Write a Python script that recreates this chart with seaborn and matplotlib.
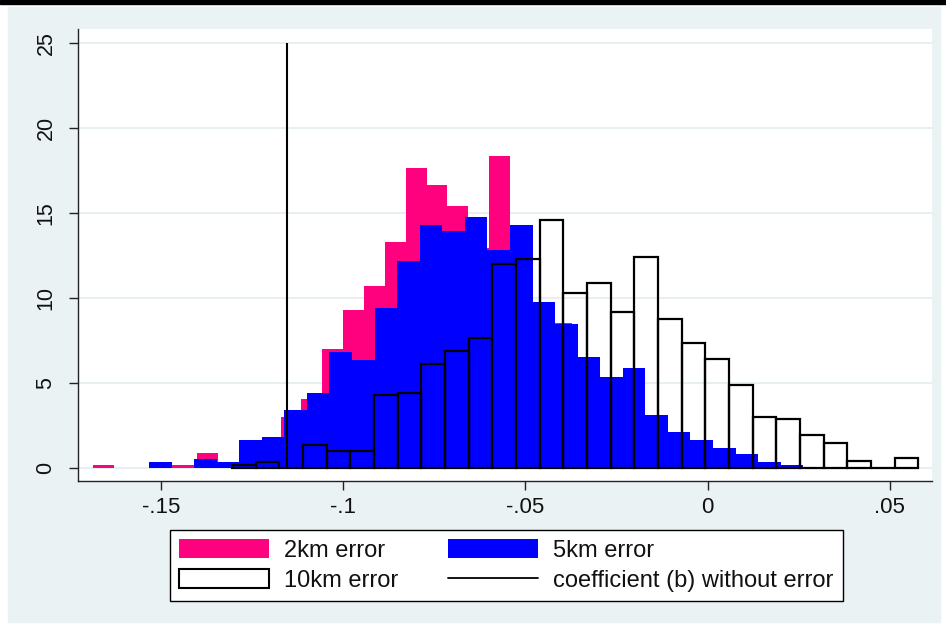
import numpy as np
import pandas as pd
import matplotlib
matplotlib.use("Agg")
import matplotlib.pyplot as plt
import seaborn as sns
from matplotlib.patches import Patch, Rectangle
from matplotlib.lines import Line2D

# histogram densities (Stata style overlaid histograms)
pink_start, pink_width = -0.16857, 0.005718
pink_2km = [0.17, 0, 0, 0.15, 0.15, 0.86, 0.17, 1.0, 1.4, 3.0, 4.04, 6.98, 9.28,
            10.69, 13.28, 17.64, 16.64, 15.40, 12.91, 18.34, 11.0, 8.0, 8.54,
            5.0, 3.8, 3.0, 2.0, 1.2, 0.7, 0.35, 0.17]

blue_start, blue_width = -0.15321, 0.006188
blue_5km = [0.33, 0, 0.49, 0.33, 1.63, 1.82, 3.40, 4.39, 6.81, 6.34, 9.40, 12.16,
            14.28, 13.93, 14.75, 12.81, 14.28, 9.75, 8.46, 6.52, 5.34, 5.87,
            3.10, 2.10, 1.63, 1.16, 0.81, 0.34, 0.16]

ten_start, ten_width = -0.13044, 0.00649
ten_10km = [0.15, 0.31, 0, 1.35, 1.0, 1.0, 4.28, 4.42, 6.10, 6.89, 7.63, 11.97,
            12.30, 14.58, 10.26, 10.89, 9.18, 12.42, 8.75, 7.36, 6.42, 4.89,
            3.0, 2.87, 1.94, 1.47, 0.41, 0, 0.59]

coef_no_error = -0.1153
coef_top = 25

x_ticks = [-0.15, -0.1, -0.05, 0, 0.05]
x_ticklabels = ["-.15", "-.1", "-.05", "0", ".05"]
y_ticks = [0, 5, 10, 15, 20, 25]
labels = ["2km error", "5km error", "10km error", "coefficient (b) without error"]

PINK = "#ff007f"
BLUE = "#0000ff"
BG = "#eaf2f3"
GRID = "#e4ecef"

sns.set_theme(style="white")
plt.rcParams["font.family"] = ["Liberation Sans", "DejaVu Sans"]

fig = plt.figure(figsize=(9.46, 6.28), dpi=100)
fig.patch.set_facecolor("white")
fig.patches.append(Rectangle((8 / 946, 6 / 628), 932 / 946, 615 / 628,
                             transform=fig.transFigure, color=BG, zorder=-10))
fig.patches.append(Rectangle((0, 1 - 4.3 / 628), 1, 4.3 / 628,
                             transform=fig.transFigure, color="black", zorder=-9))

ax = fig.add_axes([0.08245, 0.23408, 0.90275, 0.71926])
ax.set_facecolor("white")


def draw_hist(heights, start, width, **kw):
    edges = [start + width * i for i in range(len(heights) + 1)]
    df = pd.DataFrame({"value": [e + width / 2 for e in edges[:-1]],
                       "density": heights})
    sns.histplot(data=df, x="value", weights="density", bins=edges,
                 stat="count", element="bars", ax=ax, **kw)


draw_hist(pink_2km, pink_start, pink_width, color=PINK, alpha=1, linewidth=0)
draw_hist(blue_5km, blue_start, blue_width, color=BLUE, alpha=1, linewidth=0)
draw_hist(ten_10km, ten_start, ten_width, fill=False, color="black",
          linewidth=1.6)
ax.vlines(coef_no_error, 0, coef_top, color="black", linewidth=1.5, zorder=5)

ax.set_xlim(-0.17268, 0.06155)
ax.set_ylim(-0.783, 25.80)
ax.set_xticks(x_ticks)
ax.set_xticklabels(x_ticklabels)
ax.set_yticks(y_ticks)
ax.set_yticklabels([str(v) for v in y_ticks])
ax.set_xlabel("")
ax.set_ylabel("")
ax.yaxis.grid(True, color=GRID, linewidth=1.2)
ax.set_axisbelow(True)

for s in ["top", "right"]:
    ax.spines[s].set_visible(False)
for s in ["left", "bottom"]:
    ax.spines[s].set_color("#222222")
    ax.spines[s].set_linewidth(1.0)

ax.tick_params(axis="x", direction="out", length=6.5, width=1, color="#222222",
               labelsize=16, pad=5, bottom=True, labelcolor="#111111")
ax.tick_params(axis="y", direction="out", length=6.5, width=1, color="#222222",
               labelsize=15.5, pad=9, left=True, labelrotation=90,
               labelcolor="#111111")
for t in ax.get_yticklabels():
    t.set_verticalalignment("center")

handles = [Patch(facecolor=PINK, edgecolor="none"),
           Patch(facecolor="white", edgecolor="black", linewidth=1.5),
           Patch(facecolor=BLUE, edgecolor="none"),
           Line2D([0], [0], color="black", linewidth=1.3)]
leg = fig.legend(handles, [labels[0], labels[2], labels[1], labels[3]], ncol=2,
                 loc="upper center", bbox_to_anchor=(0.5355, 0.1565),
                 fontsize=17, frameon=True, fancybox=False, framealpha=1,
                 edgecolor="black", borderpad=0.38, handlelength=3.8,
                 handleheight=0.9, handletextpad=0.65, columnspacing=2.1,
                 labelspacing=0.3, borderaxespad=0)
leg.get_frame().set_linewidth(1.0)
for t in leg.get_texts():
    t.set_color("#111111")

fig.savefig("out.png", dpi=100, facecolor=fig.get_facecolor())
